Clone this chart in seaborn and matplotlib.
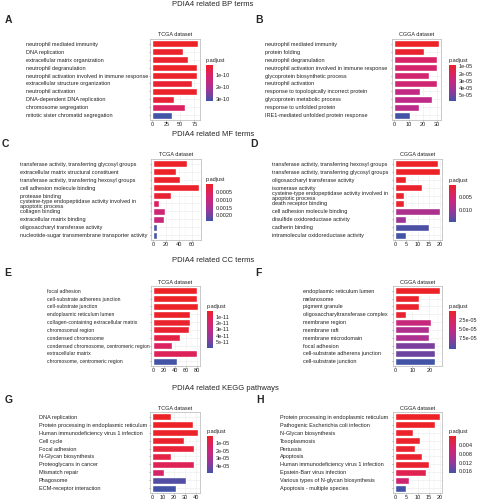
import matplotlib
matplotlib.use("Agg")
import matplotlib.pyplot as plt
import seaborn as sns
import pandas as pd
from matplotlib.colors import LinearSegmentedColormap, Normalize
from matplotlib.cm import ScalarMappable
from matplotlib.ticker import AutoMinorLocator

# ---- data ----

bp_tcga_terms = [
    "neutrophil mediated immunity",
    "DNA replication",
    "extracellular matrix organization",
    "neutrophil degranulation",
    "neutrophil activation involved in immune response",
    "extracellular structure organization",
    "neutrophil activation",
    "DNA-dependent DNA replication",
    "chromosome segregation",
    "mitotic sister chromatid segregation",
]
bp_tcga_count = [81, 55, 64, 79, 79, 70, 80, 38, 58, 36]
bp_tcga_padj = [1.0e-11, 1.5e-11, 2.0e-11, 1.2e-11, 1.3e-11, 2.5e-11, 1.4e-11, 3.0e-11, 8.8e-11, 3.2e-10]

bp_cgga_terms = [
    "neutrophil mediated immunity",
    "protein folding",
    "neutrophil degranulation",
    "neutrophil activation involved in immune response",
    "glycoprotein biosynthetic process",
    "neutrophil activation",
    "response to topologically incorrect protein",
    "glycoprotein metabolic process",
    "response to unfolded protein",
    "IRE1-mediated unfolded protein response",
]
bp_cgga_count = [31, 21, 30, 30, 24, 30, 18, 26, 17, 11]
bp_cgga_padj = [8e-6, 1.0e-5, 2.2e-5, 2.4e-5, 2.5e-5, 2.6e-5, 3.2e-5, 3.3e-5, 3.4e-5, 5.8e-5]

mf_tcga_terms = [
    "transferase activity, transferring glycosyl groups",
    "extracellular matrix structural constituent",
    "transferase activity, transferring hexosyl groups",
    "cell adhesion molecule binding",
    "protease binding",
    "cysteine-type endopeptidase activity involved in\napoptotic process",
    "collagen binding",
    "extracellular matrix binding",
    "oligosaccharyl transferase activity",
    "nucleotide-sugar transmembrane transporter activity",
]
mf_tcga_count = [52, 35, 41, 71, 27, 9, 18, 16, 6, 6]
mf_tcga_padj = [2e-5, 3e-5, 4e-5, 5e-5, 1.5e-4, 6e-4, 9e-4, 1.0e-3, 2.3e-3, 2.35e-3]

mf_cgga_terms = [
    "transferase activity, transferring hexosyl groups",
    "transferase activity, transferring glycosyl groups",
    "oligosaccharyl transferase activity",
    "isomerase activity",
    "cysteine-type endopeptidase activity involved in\napoptotic process",
    "death receptor binding",
    "cell adhesion molecule binding",
    "disulfide oxidoreductase activity",
    "cadherin binding",
    "intramolecular oxidoreductase activity",
]
mf_cgga_count = [19, 20, 5, 12, 4, 4, 20, 5, 15, 5]
mf_cgga_padj = [1e-4, 1.2e-4, 3e-4, 4e-4, 5e-4, 6e-4, 9e-3, 1.0e-2, 1.45e-2, 1.5e-2]

cc_tcga_terms = [
    "focal adhesion",
    "cell-substrate adherens junction",
    "cell-substrate junction",
    "endoplasmic reticulum lumen",
    "collagen-containing extracellular matrix",
    "chromosomal region",
    "condensed chromosome",
    "condensed chromosome, centromeric region",
    "extracellular matrix",
    "chromosome, centromeric region",
]
cc_tcga_count = [81, 81, 82, 67, 68, 66, 49, 34, 80, 44]
cc_tcga_padj = [1e-13, 2e-13, 3e-13, 1e-12, 2e-12, 3e-12, 8e-12, 1.5e-11, 1.3e-11, 6e-11]

cc_cgga_terms = [
    "endoplasmic reticulum lumen",
    "melanosome",
    "pigment granule",
    "oligosaccharyltransferase complex",
    "membrane region",
    "membrane raft",
    "membrane microdomain",
    "focal adhesion",
    "cell-substrate adherens junction",
    "cell-substrate junction",
]
cc_cgga_count = [26, 14, 14, 6, 21, 20, 20, 23, 23, 23]
cc_cgga_padj = [1e-7, 2e-6, 3e-6, 5e-6, 4.5e-5, 6e-5, 6.2e-5, 8.5e-5, 9e-5, 1.05e-4]

kegg_tcga_terms = [
    "DNA replication",
    "Protein processing in endoplasmic reticulum",
    "Human immunodeficiency virus 1 infection",
    "Cell cycle",
    "Focal adhesion",
    "N-Glycan biosynthesis",
    "Proteoglycans in cancer",
    "Mismatch repair",
    "Phagosome",
    "ECM-receptor interaction",
]
kegg_tcga_count = [17, 38, 42, 29, 39, 17, 39, 11, 31, 22]
kegg_tcga_padj = [2e-7, 5e-7, 8e-7, 1.5e-6, 4e-6, 6e-6, 1e-5, 1.5e-5, 4.7e-5, 4.95e-5]

kegg_cgga_terms = [
    "Protein processing in endoplasmic reticulum",
    "Pathogenic Escherichia coli infection",
    "N-Glycan biosynthesis",
    "Toxoplasmosis",
    "Pertussis",
    "Apoptosis",
    "Human immunodeficiency virus 1 infection",
    "Epstein-Barr virus infection",
    "Various types of N-glycan biosynthesis",
    "Apoptosis - multiple species",
]
kegg_cgga_count = [20, 18, 8, 11, 9, 12, 15, 14, 6, 5]
kegg_cgga_padj = [1e-4, 2e-4, 3e-4, 4e-4, 5e-4, 6e-4, 8e-4, 3e-3, 6e-3, 1.67e-2]

# x axis ticks and colourbar ticks per panel
xticks = {
    "A": [0, 25, 50, 75], "B": [0, 10, 20, 30],
    "C": [0, 20, 40, 60], "D": [0, 5, 10, 15, 20],
    "E": [0, 20, 40, 60, 80], "F": [0, 10, 20],
    "G": [0, 10, 20, 30, 40], "H": [0, 5, 10, 15, 20],
}
cbar_ticks = {
    "A": [1e-10, 2e-10, 3e-10], "B": [1e-5, 2e-5, 3e-5, 4e-5, 5e-5],
    "C": [0.0005, 0.0010, 0.0015, 0.0020], "D": [0.005, 0.010],
    "E": [1e-11, 2e-11, 3e-11, 4e-11, 5e-11], "F": [2.5e-5, 5.0e-5, 7.5e-5],
    "G": [1e-5, 2e-5, 3e-5, 4e-5], "H": [0.004, 0.008, 0.012, 0.016],
}
cbar_labels = {
    "A": ["1e-10", "2e-10", "3e-10"],
    "B": ["1e-05", "2e-05", "3e-05", "4e-05", "5e-05"],
    "C": ["0.0005", "0.0010", "0.0015", "0.0020"],
    "D": ["0.005", "0.010"],
    "E": ["1e-11", "2e-11", "3e-11", "4e-11", "5e-11"],
    "F": ["2.5e-05", "5.0e-05", "7.5e-05"],
    "G": ["1e-05", "2e-05", "3e-05", "4e-05"],
    "H": ["0.004", "0.008", "0.012", "0.016"],
}

section_titles = [
    "PDIA4 related BP terms",
    "PDIA4 related MF terms",
    "PDIA4 related CC terms",
    "PDIA4 related KEGG pathways",
]

# ---- layout in pixels of the 478x500 figure ----
W, H = 478, 500
DPI = 100

# letter: (axes box x0, y0, x1, y1), (colourbar box), label start x, letter position, label size
layout = {
    "A": ((150, 39, 200, 120), (206, 65, 213, 101), 26, (8.5, 20), 4.0),
    "B": ((392, 39, 441, 120), (449, 65, 456, 101), 265, (259, 20), 4.0),
    "C": ((151, 159, 201, 240), (206, 184, 213, 221), 20, (5, 144), 4.0),
    "D": ((393, 159, 442, 240), (449, 185, 456, 222), 272, (254, 144), 4.0),
    "E": ((151, 286, 200, 366), (207, 311, 213, 348), 47, (7.5, 273), 3.7),
    "F": ((393, 286, 442, 366), (449, 311, 456, 349), 303, (258, 273), 4.0),
    "G": ((150, 412, 200, 493), (207, 436, 213, 473), 39, (8.5, 400), 4.0),
    "H": ((393, 412, 442, 493), (449, 436, 456, 473), 280, (260, 400), 4.0),
}
title_y = [5, 135, 260, 388]

sns.set_theme(style="white")
plt.rcParams["font.family"] = ["Liberation Sans", "DejaVu Sans"]

# red (small p.adjust) to blue (large p.adjust)
cmap = LinearSegmentedColormap.from_list(
    "padj", ["#EC2227", "#DB2262", "#BF2A86", "#8E3A9C", "#4353A6"]
)


def box(x0, y0, x1, y1):
    return [x0 / W, 1 - y1 / H, (x1 - x0) / W, (y1 - y0) / H]


def draw_panel(fig, letter, dataset, terms, counts, padj):
    ax_px, cb_px, label_x, letter_xy, label_size = layout[letter]
    ax = fig.add_axes(box(*ax_px))

    norm = Normalize(min(padj), max(padj))
    palette = {t: cmap(norm(p)) for t, p in zip(terms, padj)}
    df = pd.DataFrame({"term": terms, "Count": counts})
    sns.barplot(
        data=df, x="Count", y="term", hue="term", palette=palette,
        legend=False, width=0.9, saturation=1, ax=ax,
    )

    m = max(counts)
    ax.set_xlim(-0.05 * m, 1.05 * m)
    ax.set_ylim(len(terms) - 0.4, -0.6)
    ax.set_xticks(xticks[letter])
    ax.xaxis.set_minor_locator(AutoMinorLocator(2))
    ax.set_xlabel("")
    ax.set_ylabel("")
    ax.set_axisbelow(True)
    ax.grid(which="major", color="#EBEBEB", lw=0.4)
    ax.grid(which="minor", axis="x", color="#F4F4F4", lw=0.3)
    for s in ax.spines.values():
        s.set_color("#B5B5B5")
        s.set_linewidth(0.5)

    # y labels are left aligned, starting at label_x
    tick_len = 1.0
    pad = (ax_px[0] - label_x) * 72 / DPI - tick_len
    ax.tick_params(axis="y", length=tick_len, width=0.4, color="#555555",
                   labelsize=label_size, labelcolor="#222222", pad=pad, left=True)
    for lbl in ax.get_yticklabels():
        lbl.set_ha("left")
        lbl.set_linespacing(0.9)
    ax.tick_params(axis="x", which="major", length=1.0, width=0.4, color="#555555",
                   labelsize=4, labelcolor="#222222", pad=0.6, bottom=True)
    ax.tick_params(axis="x", which="minor", length=0)
    ax.set_title(dataset, fontsize=4, pad=1.8, color="#222222")

    # colourbar, low p.adjust on top like the ggplot legend
    cax = fig.add_axes(box(*cb_px))
    cb = fig.colorbar(ScalarMappable(norm=norm, cmap=cmap), cax=cax)
    cb.outline.set_visible(False)
    cax.invert_yaxis()
    cb.set_ticks(cbar_ticks[letter], labels=cbar_labels[letter])
    cax.minorticks_off()
    cax.tick_params(axis="y", which="major", length=1.2, width=0.4, color="white",
                    direction="in", left=True, right=True, labelleft=False,
                    labelright=True, labelsize=4, labelcolor="#222222", pad=2)
    fig.text(cb_px[0] / W, 1 - (cb_px[1] - 4.5) / H, "p.adjust",
             fontsize=4, ha="left", va="center", color="#222222")

    fig.text(letter_xy[0] / W, 1 - letter_xy[1] / H, letter,
             fontsize=7.5, fontweight="bold", ha="center", va="center")
    return ax


fig = plt.figure(figsize=(W / DPI, H / DPI), dpi=DPI)

draw_panel(fig, "A", "TCGA dataset", bp_tcga_terms, bp_tcga_count, bp_tcga_padj)
draw_panel(fig, "B", "CGGA dataset", bp_cgga_terms, bp_cgga_count, bp_cgga_padj)
draw_panel(fig, "C", "TCGA dataset", mf_tcga_terms, mf_tcga_count, mf_tcga_padj)
draw_panel(fig, "D", "CGGA dataset", mf_cgga_terms, mf_cgga_count, mf_cgga_padj)
draw_panel(fig, "E", "TCGA dataset", cc_tcga_terms, cc_tcga_count, cc_tcga_padj)
draw_panel(fig, "F", "CGGA dataset", cc_cgga_terms, cc_cgga_count, cc_cgga_padj)
draw_panel(fig, "G", "TCGA dataset", kegg_tcga_terms, kegg_tcga_count, kegg_tcga_padj)
draw_panel(fig, "H", "CGGA dataset", kegg_cgga_terms, kegg_cgga_count, kegg_cgga_padj)

for title, y in zip(section_titles, title_y):
    fig.text(172.5 / W, 1 - y / H, title, fontsize=5.5, ha="left", va="center")

fig.savefig("out.png", dpi=DPI)
